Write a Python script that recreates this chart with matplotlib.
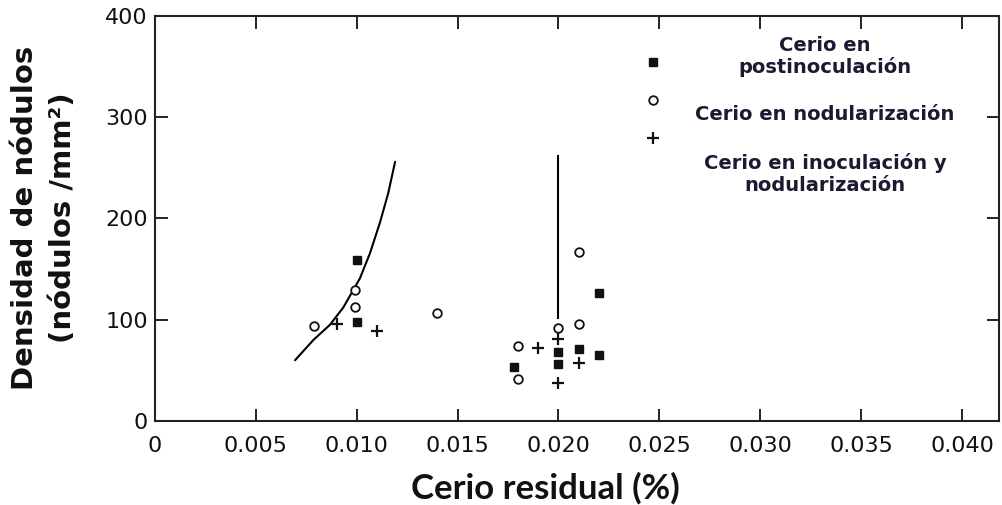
import matplotlib
matplotlib.use("Agg")
import matplotlib.pyplot as plt

# ---- data ----
post_x = [0.0100, 0.0100, 0.0178, 0.0200, 0.0200, 0.0210, 0.0220, 0.0220]
post_y = [159, 98, 53, 68, 56, 71, 65, 126]

nod_x = [0.0079, 0.0099, 0.0099, 0.0140, 0.0180, 0.0180, 0.0200, 0.0210, 0.0210]
nod_y = [94, 129, 113, 107, 74, 41, 92, 96, 167]

inoc_x = [0.0090, 0.0110, 0.0190, 0.0200, 0.0210, 0.0200]
inoc_y = [96, 89, 72, 81, 57, 38]

curve_x = [0.00694, 0.00785, 0.00867, 0.00933, 0.01016, 0.01066, 0.01115, 0.01156, 0.0119]
curve_y = [60, 80, 95, 112, 141, 166, 196, 225, 256]

vline_x = 0.0200
vline_y = [102, 262]

xticks = [0, 0.005, 0.010, 0.015, 0.020, 0.025, 0.030, 0.035, 0.040]
xticklabels = ["0", "0.005", "0.010", "0.015", "0.020", "0.025", "0.030", "0.035", "0.040"]
yticks = [0, 100, 200, 300, 400]
yticklabels = ["0", "100", "200", "300", "400"]

legend_labels = ["Cerio en\npostinoculación", "Cerio en nodularización",
                 "Cerio en inoculación y\nnodularización"]

# ---- figure ----
fig = plt.figure(figsize=(10.03, 5.05), dpi=100)
ax = fig.add_axes([155/1003, 1 - 421/505, (999-155)/1003, (421-16)/505])

ax.plot(curve_x, curve_y, color="black", lw=1.5, solid_capstyle="round")
ax.plot([vline_x, vline_x], vline_y, color="black", lw=1.5)

ax.plot(post_x, post_y, ls="none", marker="s", ms=5.6, mfc="#111111", mec="#111111")
ax.plot(nod_x, nod_y, ls="none", marker="o", ms=6.2, mfc="white", mec="#111111", mew=1.3)
ax.plot(inoc_x, inoc_y, ls="none", marker="+", ms=9, mec="#111111", mew=1.6)

ax.set_xlim(0, (999-155)/20175)
ax.set_ylim(0, 400)
ax.set_xticks(xticks)
ax.set_xticklabels(xticklabels)
ax.set_yticks(yticks)
ax.set_yticklabels(yticklabels)
ax.tick_params(direction="in", length=9, width=1.3, top=True, right=True,
               labelsize=16, colors="#111111")
ax.tick_params(axis="x", pad=11)
ax.tick_params(axis="y", pad=5)
for s in ax.spines.values():
    s.set_linewidth(1.5)
    s.set_color("#222222")

ax.set_xlabel("Cerio residual (%)", fontsize=25, fontweight="bold",
              family="Lato", color="#111111")
ax.xaxis.set_label_coords((545 - 155) / 844, (421 - 488) / 405)
ax.xaxis.label.set_va("center")
ax.set_ylabel("Densidad de nódulos\n(nódulos /mm²)", fontsize=21,
              fontweight="bold", color="#111111", linespacing=1.42)
ax.yaxis.set_label_coords((44 - 155) / 844, (421 - 218) / 405)
ax.yaxis.label.set_va("center")

# legend (custom layout)
def fy(py):
    return (421 - py) / 405

mk_x = (653 - 155) / 844
ax.plot([mk_x], [fy(62)], transform=ax.transAxes, marker="s", ms=5.6,
        mfc="#111111", mec="#111111", ls="none")
ax.plot([mk_x], [fy(100)], transform=ax.transAxes, marker="o", ms=6.2,
        mfc="white", mec="#111111", mew=1.3, ls="none")
ax.plot([mk_x], [fy(138)], transform=ax.transAxes, marker="+", ms=9,
        mec="#111111", mew=1.6, ls="none")

tx = (825 - 155) / 844
for lab, py in zip(legend_labels, [56.5, 115, 174]):
    ax.text(tx, fy(py), lab, transform=ax.transAxes, ha="center", va="center",
            fontsize=14, fontweight="bold", color="#1a1a30", linespacing=1.15)

fig.savefig("out.png", dpi=100)
